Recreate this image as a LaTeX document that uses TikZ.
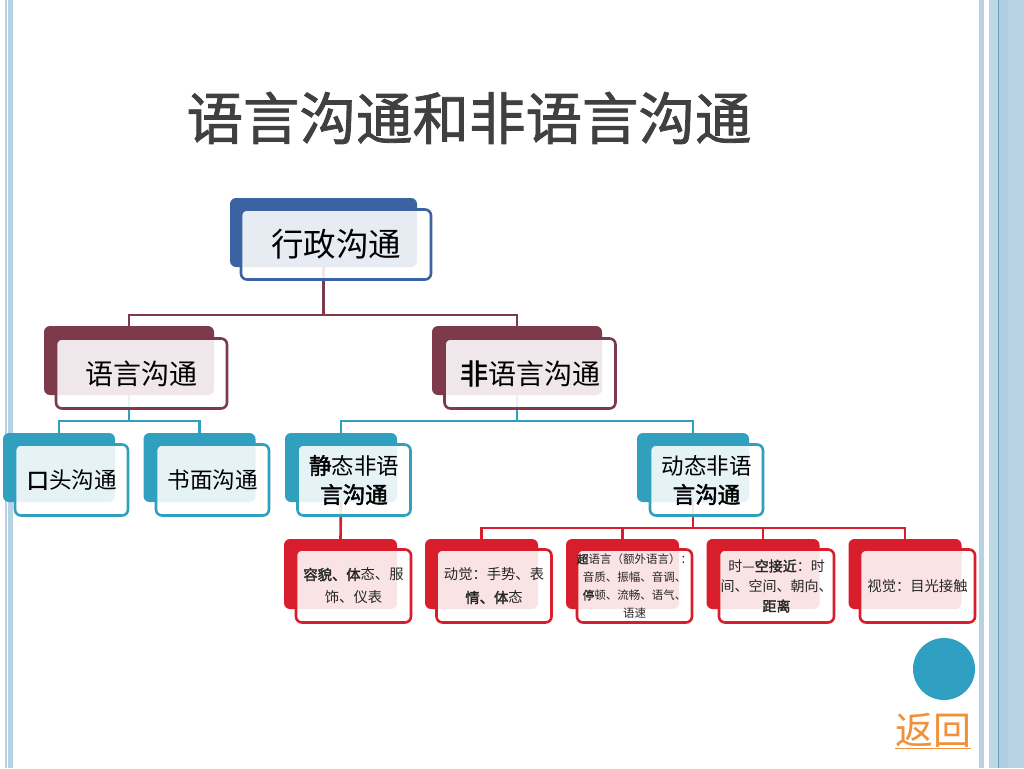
\documentclass[tikz,border=0pt]{standalone}
\usepackage{fontspec}
\setmainfont{Noto Sans CJK SC}[AutoFakeBold=2]
\newfontfamily\titlefont{Noto Sans CJK SC}[AutoFakeBold=1.4]
\definecolor{cblue}{HTML}{3C63A1}
\definecolor{cmaroon}{HTML}{7D3A4B}
\definecolor{cteal}{HTML}{31A0BF}
\definecolor{cred}{HTML}{D81E2C}
\definecolor{ccircle}{HTML}{2FA0C2}
\definecolor{corange}{HTML}{F0913A}
\definecolor{ctitle}{HTML}{404040}
\definecolor{bandA}{HTML}{B7D3E3}
\definecolor{bandB}{HTML}{BDD8E6}
\definecolor{bandC}{HTML}{AECDE0}
\definecolor{bandD}{HTML}{6E9EBE}
\begin{document}
\begin{tikzpicture}[x=1pt,y=-1pt,
  bk/.style={draw=none, fill=#1, rounded corners=6pt, inner sep=0pt},
  fr/.style={draw=#1, line width=2.6pt, fill=white, fill opacity=0.88, text opacity=1,
             rounded corners=6pt, inner sep=0pt, align=center, text=black},
  cn/.style={draw=#1, line width=2.6pt},
  lvA/.style={minimum width=187pt, minimum height=69pt},
  lvAf/.style={minimum width=190pt, minimum height=70pt, font=\fontsize{32.5}{37}\selectfont},
  lvB/.style={minimum width=170pt, minimum height=69pt},
  lvBf/.style={minimum width=171pt, minimum height=70pt, font=\fontsize{28}{33}\selectfont},
  lvC/.style={minimum width=112pt, minimum height=69pt},
  lvCf/.style={minimum width=113pt, minimum height=71pt, font=\fontsize{22.5}{29}\selectfont},
  lvD/.style={minimum width=113pt, minimum height=70pt},
  lvDf/.style={minimum width=115pt, minimum height=73pt, font=\fontsize{14.3}{23}\selectfont, text=black!85},
]
\useasboundingbox (0,0) rectangle (1024,768);
\fill[white] (0,0) rectangle (1024,768);
% page borders
\fill[bandA] (5,0) rectangle (6.5,768);
\fill[bandA] (8,0) rectangle (12.5,768);
\fill[bandA] (979,0) rectangle (983.5,768);
\fill[bandB] (989,0) rectangle (998,768);
\fill[bandC] (998,0) rectangle (1008,768);
\fill[bandA] (1008,0) rectangle (1024,768);
\fill[bandD] (997.8,0) rectangle (998.8,768);

% title
\node[font=\titlefont\fontsize{56.5}{60}\selectfont\bfseries, text=ctitle] (title) at (469,118) {语言沟通和非语言沟通};

% back boxes
\node[bk=cblue, lvA] (b0) at (323.5,232.5) {};
\node[bk=cmaroon, lvB] (b1) at (129,360.5) {};
\node[bk=cmaroon, lvB] (b2) at (517,360.5) {};
\node[bk=cteal, lvC] (b3) at (59,467.5) {};
\node[bk=cteal, lvC] (b4) at (199.5,467.5) {};
\node[bk=cteal, lvC] (b5) at (341,467.5) {};
\node[bk=cteal, lvC] (b6) at (693,467.5) {};
\node[bk=cred, lvD] (b7) at (340.5,574) {};
\node[bk=cred, lvD] (b8) at (481.5,574) {};
\node[bk=cred, lvD] (b9) at (622.5,574) {};
\node[bk=cred, lvD] (b10) at (763,574) {};
\node[bk=cred, lvD] (b11) at (905,574) {};

% connectors
\coordinate (j0) at (323.5,315);
\coordinate (j1) at (129,421);
\coordinate (j2) at (517,421);
\coordinate (j6) at (693,528);
\draw[cn=cmaroon] (b0.south) -- (j0) -| (b1.north);
\draw[cn=cmaroon] (j0) -| (b2.north);
\draw[cn=cteal] (b1.south) -- (j1) -| (b3.north);
\draw[cn=cteal] (j1) -| (b4.north);
\draw[cn=cteal] (b2.south) -- (j2) -| (b5.north);
\draw[cn=cteal] (j2) -| (b6.north);
\draw[cn=cred] (b5.south) -- (b7.north);
\draw[cn=cred] (b6.south) -- (j6) -| (b8.north);
\draw[cn=cred] (j6) -| (b9.north);
\draw[cn=cred] (j6) -| (b10.north);
\draw[cn=cred] (j6) -| (b11.north);

% front boxes
\node[fr=cblue, lvAf] (f0) at (336,244.5) {行政沟通};
\node[fr=cmaroon, lvBf] (f1) at (141.5,373.5) {语言沟通};
\node[fr=cmaroon, lvBf] (f2) at (530,373.5) {\textbf{非}语言沟通};
\node[fr=cteal, lvCf] (f3) at (71.5,480) {\textbf{口}头沟通};
\node[fr=cteal, lvCf] (f4) at (212.5,480) {书面沟通};
\node[fr=cteal, lvCf] (f5) at (354,480) {\textbf{静}态非语\\\textbf{言沟通}};
\node[fr=cteal, lvCf] (f6) at (706.5,480) {动态非语\\\textbf{言沟通}};
\node[fr=cred, lvDf] (f7) at (353.5,586) {\textbf{容貌、体}态、服\\饰、仪表};
\node[fr=cred, lvDf] (f8) at (494,586) {动觉：手势、表\\\textbf{情、体}态};
\node[fr=cred, lvDf, font=\fontsize{11.5}{18}\selectfont] (f9) at (634.5,586) {\textbf{超}语言（额外语言）：\\音质、振幅、音调、\\\textbf{停}顿、流畅、语气、\\语速};
\node[fr=cred, lvDf, font=\fontsize{14}{20}\selectfont] (f10) at (776.5,586) {时—\textbf{空接近}：时\\间、空间、朝向、\\\textbf{距离}};
\node[fr=cred, lvDf] (f11) at (917.5,586) {视觉：目光接触};

% return button
\node[circle, fill=ccircle, minimum size=62pt, inner sep=0pt] (btn) at (944,669) {};
\node[text=corange, font=\fontsize{38}{42}\selectfont, inner sep=0pt] (ret) at (933,731) {\underline{返回}};
\end{tikzpicture}
\end{document}
